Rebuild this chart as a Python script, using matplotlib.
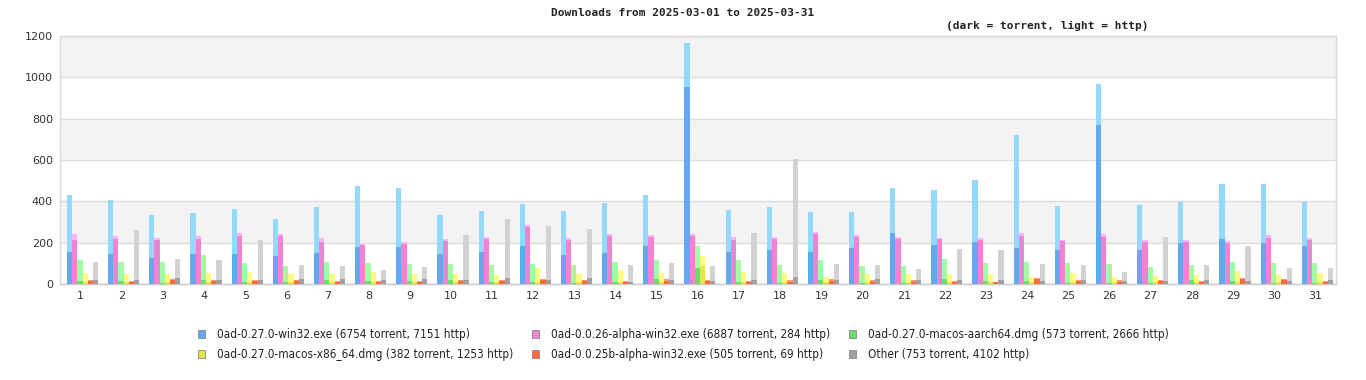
import matplotlib
matplotlib.use("Agg")
import matplotlib.pyplot as plt
import numpy as np
from matplotlib.patches import Patch

days = [str(d) for d in range(1, 32)]

# torrent (dark) and total (torrent + http) per file
win27_torrent = [155, 145, 127, 145, 145, 135, 150, 179, 179, 145, 155, 184, 140, 150, 184, 955,
                 155, 164, 155, 174, 247, 189, 203, 174, 164, 770, 164, 198, 218, 198, 184]
win27_total = [432, 408, 335, 345, 364, 316, 374, 476, 467, 335, 355, 389, 355, 394, 433, 1165,
               360, 374, 350, 350, 467, 457, 501, 721, 379, 970, 384, 399, 482, 482, 399]

win26_torrent = [215, 217, 215, 220, 233, 233, 203, 189, 194, 208, 218, 277, 213, 233, 228, 233,
                 213, 218, 242, 228, 218, 218, 213, 233, 208, 228, 205, 205, 200, 223, 213]
win26_total = [242, 230, 222, 231, 245, 240, 225, 196, 204, 220, 226, 284, 224, 240, 236, 240,
               228, 229, 250, 235, 229, 225, 224, 247, 215, 243, 215, 211, 210, 238, 224]

aarch_torrent = [15, 15, 6, 20, 9, 9, 20, 15, 13, 18, 9, 9, 6, 9, 23, 76,
                 9, 6, 18, 6, 6, 23, 13, 13, 6, 6, 6, 18, 13, 6, 6]
aarch_total = [117, 106, 106, 140, 101, 86, 106, 101, 96, 96, 91, 96, 91, 106, 115, 184,
               116, 91, 116, 86, 86, 120, 101, 106, 101, 96, 81, 91, 106, 101, 101]

x86_torrent = [8, 10, 8, 10, 10, 8, 10, 10, 8, 8, 8, 10, 8, 8, 10, 86,
               8, 8, 8, 8, 8, 10, 8, 8, 8, 8, 8, 10, 10, 8, 8]
x86_total = [52, 47, 47, 52, 57, 47, 47, 57, 47, 47, 42, 76, 47, 67, 52, 135,
             57, 52, 33, 47, 47, 47, 47, 33, 52, 33, 37, 42, 62, 42, 52]

win25_torrent = [16, 8, 21, 16, 16, 16, 10, 12, 12, 16, 16, 21, 16, 8, 13, 16,
                 12, 12, 13, 12, 12, 8, 8, 25, 16, 12, 16, 12, 25, 20, 12]
win25_total = [18, 15, 23, 18, 18, 18, 15, 13, 13, 20, 18, 23, 18, 13, 23, 18,
               13, 18, 23, 18, 18, 13, 8, 28, 18, 18, 18, 13, 28, 23, 13]

other_torrent = [18, 18, 29, 18, 18, 23, 23, 18, 23, 18, 28, 18, 28, 8, 18, 13,
                 18, 33, 18, 23, 18, 18, 18, 13, 18, 13, 13, 18, 13, 13, 18]
other_total = [106, 262, 120, 115, 215, 91, 86, 67, 81, 238, 316, 281, 267, 91, 101, 86,
               247, 604, 96, 91, 72, 169, 164, 96, 91, 57, 228, 91, 184, 76, 76]

labels = ["0ad-0.27.0-win32.exe (6754 torrent, 7151 http)",
          "0ad-0.0.26-alpha-win32.exe (6887 torrent, 284 http)",
          "0ad-0.27.0-macos-aarch64.dmg (573 torrent, 2666 http)",
          "0ad-0.27.0-macos-x86_64.dmg (382 torrent, 1253 http)",
          "0ad-0.0.25b-alpha-win32.exe (505 torrent, 69 http)",
          "Other (753 torrent, 4102 http)"]

series = [(win27_torrent, win27_total), (win26_torrent, win26_total),
          (aarch_torrent, aarch_total), (x86_torrent, x86_total),
          (win25_torrent, win25_total), (other_torrent, other_total)]

dark = ["#64a8f0", "#f282d2", "#6ade6a", "#e6e650", "#ff6a3c", "#a0a0a0"]
light = ["#94d8fc", "#fab2f8", "#a2fca2", "#fffa80", "#ff9a78", "#d2d2d2"]

fig = plt.figure(figsize=(13.66, 3.8), dpi=100)
ax = fig.add_axes([0.0439, 0.2526, 0.9341, 0.6526])

x = np.arange(len(days))
width = 0.126
for k, (tor, tot) in enumerate(series):
    tor = np.array(tor)
    http = np.array(tot) - tor
    pos = x - 0.267 + k * width
    ax.bar(pos, tor, width, color=dark[k], linewidth=0, zorder=3)
    ax.bar(pos, http, width, bottom=tor, color=light[k], linewidth=0, zorder=3)

# alternating bands
for lo in range(0, 1200, 200):
    if (lo // 200) % 2 == 1:
        ax.axhspan(lo, lo + 200, color="#f3f3f3", zorder=0, linewidth=0)
ax.set_ylim(0, 1200)
ax.set_xlim(-0.5, 30.5)
ax.set_yticks(range(0, 1201, 200))
ax.grid(axis="y", color="#dcdcdc", linewidth=1, zorder=1)
ax.set_axisbelow(True)
for s in ax.spines.values():
    s.set_color("#d8d8d8")
    s.set_linewidth(1)
ax.spines["bottom"].set_color("#c8c8c8")
ax.set_xticks(x)
ax.set_xticklabels(days)
ax.tick_params(length=0, labelsize=8, colors="#333333", pad=5)

fig.text(0.5, 0.965, "Downloads from 2025-03-01 to 2025-03-31", ha="center", va="center",
         family="DejaVu Sans Mono", fontsize=8, fontweight="bold", color="#222222")
fig.text(0.767, 0.931, "(dark = torrent, light = http)", ha="center", va="center",
         family="DejaVu Sans Mono", fontsize=8, fontweight="bold", color="#222222")

# legend fills column by column, so reorder to get row-major layout
order = [0, 3, 1, 4, 2, 5]
handles = [Patch(facecolor=dark[k], edgecolor="#888888", linewidth=0.6) for k in order]
leg = fig.legend(handles, [labels[k] for k in order], ncol=3, loc="center",
                 bbox_to_anchor=(0.500, 0.093), frameon=False, fontsize=8.5,
                 handlelength=0.6, handleheight=0.6, handletextpad=1.0,
                 columnspacing=1.6, labelspacing=0.6)
for t in leg.get_texts():
    t.set_fontstretch("condensed")
    t.set_color("#222222")

fig.savefig("out.png", dpi=100)
